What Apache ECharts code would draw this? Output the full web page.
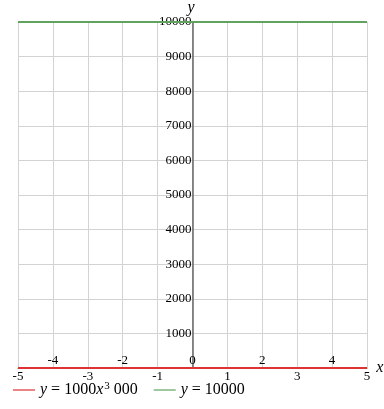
<!DOCTYPE html>
<html><head><meta charset="utf-8">
<script src="https://cdn.jsdelivr.net/npm/echarts@6/dist/echarts.min.js"></script>
<style>html,body{margin:0;padding:0;background:#fff}#c{width:384px;height:409px}</style>
</head><body><div id="c"></div>
<script>
const xRange = [-5, 5];
const yRange = [0, 10000];
const xOddTicks = [-5, -3, -1, 1, 3, 5];
const xEvenTicks = [-4, -2, 0, 2, 4];
const redX = [-5, 5];
const redY = [0, 0];
const greenX = [-5, 5];
const greenY = [10000, 10000];
const seriesNames = ['red', 'green'];

const FONT = 'Liberation Serif';
const GL = 18, GR = 17;
const W = 384;
const chart = echarts.init(document.getElementById('c'), null, {renderer: 'canvas'});
const plotW = W - GL - GR;
const zeroOffset = -plotW * (0 - xRange[0]) / (xRange[1] - xRange[0]);
const option = {
  animation: false,
  grid: {left: GL, right: GR, top: 22, bottom: 41, outerBoundsMode: 'none', containLabel: false},
  legend: {
    left: 8, bottom: 6, itemGap: 16, itemWidth: 22, itemHeight: 10,
    icon: 'path://M0,4.4L22,4.4L22,5.6L0,5.6Z',
    data: seriesNames,
    formatter: function (n) {
      return n === 'red' ? '{i|y} = 1000{i|x}{s|3} 000' : '{i|y} = 10000';
    },
    textStyle: {
      fontFamily: FONT, fontSize: 16, color: '#000',
      rich: {
        i: {fontFamily: FONT, fontSize: 16, fontStyle: 'italic', color: '#000'},
        s: {fontFamily: FONT, fontSize: 11, color: '#000', verticalAlign: 'bottom', padding: [0, 0, 8, 1]}
      }
    }
  },
  xAxis: [{
    type: 'value', min: xRange[0], max: xRange[1], interval: 1,
    name: 'x', nameLocation: 'end', nameGap: 2,
    nameTextStyle: {fontFamily: FONT, fontStyle: 'italic', fontSize: 16, color: '#000', verticalAlign: 'middle', padding: [0, 0, 4, 0]},
    axisLine: {onZero: false, lineStyle: {color: '#666'}},
    axisTick: {show: false},
    splitLine: {show: true, lineStyle: {color: '#d3d3d3'}},
    axisLabel: {
      fontFamily: FONT, fontSize: 13, color: '#000', margin: 2,
      showMinLabel: true, showMaxLabel: true,
      formatter: function (v) { return xOddTicks.indexOf(v) >= 0 ? String(v) : ''; }
    }
  }, {
    type: 'value', min: xRange[0], max: xRange[1], interval: 1, position: 'bottom',
    axisLine: {show: false}, axisTick: {show: false}, splitLine: {show: false},
    axisLabel: {
      inside: true, fontFamily: FONT, fontSize: 13, color: '#000', margin: 1,
      formatter: function (v) { return xEvenTicks.indexOf(v) >= 0 ? String(v) : ''; }
    }
  }],
  yAxis: {
    type: 'value', min: yRange[0], max: yRange[1], interval: 1000,
    position: 'left', offset: zeroOffset,
    name: 'y', nameLocation: 'end', nameGap: -4,
    nameTextStyle: {fontFamily: FONT, fontStyle: 'italic', fontSize: 16, color: '#000', align: 'right', padding: [0, -2, 0, 0]},
    axisLine: {onZero: false, lineStyle: {color: '#666', width: 1.5}},
    axisTick: {show: false},
    splitLine: {show: true, lineStyle: {color: '#d3d3d3'}},
    axisLabel: {
      fontFamily: FONT, fontSize: 13, color: '#000', margin: 1,
      formatter: function (v) { return v === 0 ? '' : String(v); }
    }
  },
  series: [{
    name: 'red', type: 'line', showSymbol: false, symbol: 'none', clip: false,
    lineStyle: {color: '#dd3333', width: 2}, itemStyle: {color: '#dd3333'},
    data: redX.map((x, i) => [x, redY[i]])
  }, {
    name: 'green', type: 'line', showSymbol: false, symbol: 'none', clip: false,
    lineStyle: {color: '#5fa35f', width: 2}, itemStyle: {color: '#5fa35f'},
    data: greenX.map((x, i) => [x, greenY[i]])
  }]
};
chart.setOption(option);
</script></body></html>
